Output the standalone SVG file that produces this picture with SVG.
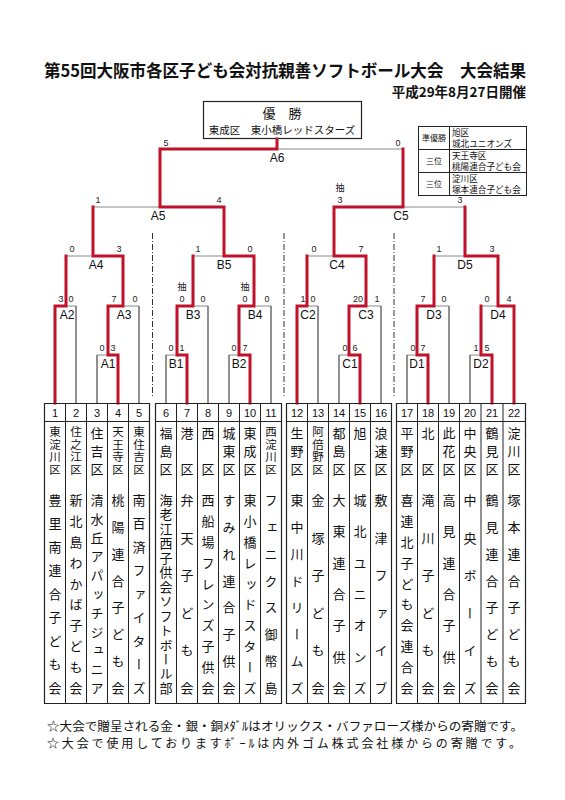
<svg xmlns="http://www.w3.org/2000/svg" width="565" height="800" viewBox="0 0 565 800">
<style>
.r{stroke:#c0132b;stroke-width:3;fill:none;stroke-linejoin:miter;stroke-linecap:square}
.g{stroke:#8a8a8a;stroke-width:1;fill:none}
.k{stroke:#222;stroke-width:1;fill:none}
.d{stroke:#333;stroke-width:1;fill:none;stroke-dasharray:6 2 1 2}
.tb{stroke:#222;stroke-width:1.2;fill:none}
.sc{font-family:"Liberation Sans","Noto Sans CJK JP",Arial,sans-serif;font-size:9px;text-anchor:middle;fill:#222}
.lb{font-family:"Liberation Sans",Arial,sans-serif;font-size:12px;text-anchor:middle;fill:#111}
.j{font-family:"Noto Sans CJK JP",sans-serif;fill:#111}
.num{font-family:"Liberation Sans",Arial,sans-serif;font-size:11px;text-anchor:middle;fill:#111}
.nm{font-family:"Noto Sans CJK JP",sans-serif;font-size:13px;text-anchor:middle;writing-mode:vertical-rl;fill:#111}
.w4{font-size:11.5px}
</style>
<rect width="565" height="800" fill="#fff"/>

<g id="title">
<text class="j" x="44" y="77" font-size="17" font-weight="bold" textLength="482" lengthAdjust="spacingAndGlyphs">第55回大阪市各区子ども会対抗親善ソフトボール大会　大会結果</text>
<text class="j" x="526" y="97" font-size="13.5" font-weight="bold" text-anchor="end">平成29年8月27日開催</text>
</g>

<g id="winner">
<rect x="203.5" y="101.5" width="158" height="37" fill="#fff" stroke="#222" stroke-width="1.2"/>
<text class="j" x="282" y="118" font-size="13" text-anchor="middle">優　勝</text>
<text class="j" x="282" y="134" font-size="10.5" text-anchor="middle">東成区　東小橋レッドスターズ</text>
</g>

<g id="legend">
<rect x="418.5" y="126.5" width="108" height="69" fill="#fff" stroke="#222" stroke-width="1"/>
<line class="k" x1="449.5" y1="126.5" x2="449.5" y2="195.5"/>
<line class="k" x1="418.5" y1="149.5" x2="526.5" y2="149.5"/>
<line class="k" x1="418.5" y1="172.5" x2="526.5" y2="172.5"/>
<text class="j" x="434" y="141" font-size="8" text-anchor="middle">準優勝</text>
<text class="j" x="434" y="164" font-size="8" text-anchor="middle">三位</text>
<text class="j" x="434" y="187" font-size="8" text-anchor="middle">三位</text>
<text class="j" x="452" y="136" font-size="8.6">旭区</text>
<text class="j" x="452" y="147" font-size="8.6">城北ユニオンズ</text>
<text class="j" x="452" y="159" font-size="8.6">天王寺区</text>
<text class="j" x="452" y="170" font-size="8.6">桃陽連合子ども会</text>
<text class="j" x="452" y="182" font-size="8.6">淀川区</text>
<text class="j" x="452" y="193" font-size="8.6">塚本連合子ども会</text>
</g>

<g id="connectors">
<line class="d" x1="152.5" y1="233" x2="152.5" y2="398"/>
<line class="d" x1="284" y1="233" x2="284" y2="398"/>
<line class="d" x1="394" y1="233" x2="394" y2="398"/>
<path class="g" d="M160 149H403 M93 207H224 M334 207H465 M66 256H123 M193 256H254 M307 256H366 M434 256H498 M55 306H76 M108 306H139 M177 306H208 M239 306H271 M297 306H318 M349 306H381 M417 306H449 M481 306H514 M97 355H118 M166 355H187 M229 355H250 M339 355H360 M407 355H428 M470 355H492"/>
<path class="k" d="M76 306V403.5 M139 306V403.5 M97 355V403.5 M166 355V403.5 M208 306V403.5 M229 355V403.5 M271 306V403.5 M318 306V403.5 M339 355V403.5 M381 306V403.5 M407 355V403.5 M449 306V403.5 M470 355V403.5"/>
<polyline class="r" points="55,403 55,306 66,306 66,256"/>
<polyline class="r" points="118,403 118,355 108,355 108,306 123,306 123,256 93,256 93,207"/>
<polyline class="r" points="187,403 187,355 177,355 177,306 193,306 193,256"/>
<polyline class="r" points="250,403 250,355 239,355 239,306 254,306 254,256 224,256 224,207 160,207 160,149 277,149 277,139"/>
<polyline class="r" points="297,403 297,306 307,306 307,256"/>
<polyline class="r" points="360,403 360,355 349,355 349,306 366,306 366,256 334,256 334,207 403,207 403,149"/>
<polyline class="r" points="428,403 428,355 417,355 417,306 434,306 434,256"/>
<polyline class="r" points="492,403 492,355 481,355 481,306"/>
<polyline class="r" points="514,403 514,306 498,306 498,256 465,256 465,207"/>
</g>

<g id="match-A6"><text class="sc" x="166" y="146">5</text><text class="sc" x="398" y="146">0</text><text class="lb" x="277" y="161.5">A6</text></g>
<g id="match-A5"><text class="sc" x="98" y="203">1</text><text class="sc" x="219" y="203">4</text><text class="lb" x="158" y="219.5">A5</text></g>
<g id="match-C5"><text class="sc" x="340" y="191">抽</text><text class="sc" x="340" y="203">3</text><text class="sc" x="460" y="203">3</text><text class="lb" x="401" y="219.5">C5</text></g>
<g id="match-A4"><text class="sc" x="72" y="252">0</text><text class="sc" x="119" y="252">3</text><text class="lb" x="96" y="268.5">A4</text></g>
<g id="match-B5"><text class="sc" x="198" y="252">1</text><text class="sc" x="250" y="252">0</text><text class="lb" x="224" y="268.5">B5</text></g>
<g id="match-C4"><text class="sc" x="314" y="252">0</text><text class="sc" x="361" y="252">7</text><text class="lb" x="337" y="268.5">C4</text></g>
<g id="match-D5"><text class="sc" x="439" y="252">1</text><text class="sc" x="492" y="252">3</text><text class="lb" x="465" y="268.5">D5</text></g>
<g id="match-A2"><text class="sc" x="61" y="302">3</text><text class="sc" x="71" y="302">0</text><text class="lb" x="67" y="318.5">A2</text></g>
<g id="match-A3"><text class="sc" x="114" y="302">7</text><text class="sc" x="135" y="302">0</text><text class="lb" x="124" y="318.5">A3</text></g>
<g id="match-B3"><text class="sc" x="182" y="290">抽</text><text class="sc" x="182" y="302">0</text><text class="sc" x="203" y="302">0</text><text class="lb" x="193" y="318.5">B3</text></g>
<g id="match-B4"><text class="sc" x="245" y="290">抽</text><text class="sc" x="245" y="302">0</text><text class="sc" x="267" y="302">0</text><text class="lb" x="255" y="318.5">B4</text></g>
<g id="match-C2"><text class="sc" x="303" y="302">1</text><text class="sc" x="313" y="302">0</text><text class="lb" x="308" y="318.5">C2</text></g>
<g id="match-C3"><text class="sc" x="358" y="302">20</text><text class="sc" x="377" y="302">1</text><text class="lb" x="366" y="318.5">C3</text></g>
<g id="match-D3"><text class="sc" x="423" y="302">7</text><text class="sc" x="444" y="302">0</text><text class="lb" x="434" y="318.5">D3</text></g>
<g id="match-D4"><text class="sc" x="487" y="302">0</text><text class="sc" x="509" y="302">4</text><text class="lb" x="498" y="318.5">D4</text></g>
<g id="match-A1"><text class="sc" x="102" y="351">0</text><text class="sc" x="113" y="351">3</text><text class="lb" x="108" y="367.5">A1</text></g>
<g id="match-B1"><text class="sc" x="171" y="351">0</text><text class="sc" x="182" y="351">1</text><text class="lb" x="176" y="367.5">B1</text></g>
<g id="match-B2"><text class="sc" x="234" y="351">0</text><text class="sc" x="245" y="351">7</text><text class="lb" x="239" y="367.5">B2</text></g>
<g id="match-C1"><text class="sc" x="345" y="351">0</text><text class="sc" x="355" y="351">6</text><text class="lb" x="350" y="367.5">C1</text></g>
<g id="match-D1"><text class="sc" x="413" y="351">0</text><text class="sc" x="423" y="351">7</text><text class="lb" x="417" y="367.5">D1</text></g>
<g id="match-D2"><text class="sc" x="476" y="351">1</text><text class="sc" x="487" y="351">5</text><text class="lb" x="481" y="367.5">D2</text></g>

<g id="table">
<path class="tb" d="M44.5 403.5H149.5V703.5H44.5Z M44.5 421.5H149.5 M155.5 403.5H281.5V703.5H155.5Z M155.5 421.5H281.5 M286.5 403.5H391.5V703.5H286.5Z M286.5 421.5H391.5 M396.5 403.5H525.5V703.5H396.5Z M396.5 421.5H525.5"/>
<path class="k" d="M65.5 403.5V703.5 M86.5 403.5V703.5 M107.5 403.5V703.5 M128.5 403.5V703.5 M176.5 403.5V703.5 M197.5 403.5V703.5 M218.5 403.5V703.5 M239.5 403.5V703.5 M260.5 403.5V703.5 M307.5 403.5V703.5 M328.5 403.5V703.5 M349.5 403.5V703.5 M370.5 403.5V703.5 M417.5 403.5V703.5 M438.5 403.5V703.5 M459.5 403.5V703.5 M481 403.5V703.5 M503 403.5V703.5"/>
</g>

<g id="team-1"><text class="num" x="55" y="417">1</text><text class="nm w4" x="55 55 55 55" y="432 444.5 457 469.5">東淀川区</text><text class="nm" x="55 55 55 55 55 55 55 55 55" y="500 523.5 547 570.5 594 617.5 641 664.5 688">豊里南連合子ども会</text></g>
<g id="team-2"><text class="num" x="76" y="417">2</text><text class="nm w4" x="76 76 76 76" y="432 444.5 457 469.5">住之江区</text><text class="nm" x="76 76 76 76 76 76 76 76 76 76" y="500 520.9 541.8 562.7 583.6 604.4 625.3 646.2 667.1 688">新北島わかば子ども会</text></g>
<g id="team-3"><text class="num" x="97" y="417">3</text><text class="nm" x="97 97 97" y="433 451 469">住吉区</text><text class="nm" x="97 97 97 97 97 97 97 97 97 97 97" y="500 518.8 537.6 556.4 575.2 594 612.8 631.6 650.4 669.2 688">清水丘アパッチジュニア</text></g>
<g id="team-4"><text class="num" x="118" y="417">4</text><text class="nm w4" x="118 118 118 118" y="432 444.5 457 469.5">天王寺区</text><text class="nm" x="118 118 118 118 118 118 118 118" y="500 526.9 553.7 580.6 607.4 634.3 661.1 688">桃陽連合子ども会</text></g>
<g id="team-5"><text class="num" x="139" y="417">5</text><text class="nm w4" x="139 139 139 139" y="432 444.5 457 469.5">東住吉区</text><text class="nm" x="139 139 139 139 139 139 139 139 139" y="500 523.5 547 570.5 594 617.5 641 664.5 688">南百済ファイターズ</text></g>
<g id="team-6"><text class="num" x="166" y="417">6</text><text class="nm" x="166 166 166" y="433 451 469">福島区</text><text class="nm" x="166 166 166 166 166 166 166 166 166 166 166 166 166 166" y="500 514.5 528.9 543.4 557.8 572.3 586.8 601.2 615.7 630.1 644.6 659.1 673.5 688">海老江西子供会ソフトボール部</text></g>
<g id="team-7"><text class="num" x="187" y="417">7</text><text class="nm" x="187 187" y="433 469">港区</text><text class="nm" x="187 187 187 187 187 187" y="500 537.6 575.2 612.8 650.4 688">弁天子ども会</text></g>
<g id="team-8"><text class="num" x="208" y="417">8</text><text class="nm" x="208 208" y="433 469">西区</text><text class="nm" x="208 208 208 208 208 208 208 208 208 208" y="500 520.9 541.8 562.7 583.6 604.4 625.3 646.2 667.1 688">西船場フレンズ子供会</text></g>
<g id="team-9"><text class="num" x="229" y="417">9</text><text class="nm" x="229 229 229" y="433 451 469">城東区</text><text class="nm" x="229 229 229 229 229 229 229 229" y="500 526.9 553.7 580.6 607.4 634.3 661.1 688">すみれ連合子供会</text></g>
<g id="team-10"><text class="num" x="250" y="417">10</text><text class="nm" x="250 250 250" y="433 451 469">東成区</text><text class="nm" x="250 250 250 250 250 250 250 250 250 250" y="500 520.9 541.8 562.7 583.6 604.4 625.3 646.2 667.1 688">東小橋レッドスターズ</text></g>
<g id="team-11"><text class="num" x="271" y="417">11</text><text class="nm w4" x="271 271 271 271" y="432 444.5 457 469.5">西淀川区</text><text class="nm" x="271 271 271 271 271 271 271 271" y="500 526.9 553.7 580.6 607.4 634.3 661.1 688">フェニクス御幣島</text></g>
<g id="team-12"><text class="num" x="297" y="417">12</text><text class="nm" x="297 297 297" y="433 451 469">生野区</text><text class="nm" x="297 297 297 297 297 297 297 297" y="500 526.9 553.7 580.6 607.4 634.3 661.1 688">東中川ドリームズ</text></g>
<g id="team-13"><text class="num" x="318" y="417">13</text><text class="nm w4" x="318 318 318 318" y="432 444.5 457 469.5">阿倍野区</text><text class="nm" x="318 318 318 318 318 318" y="500 537.6 575.2 612.8 650.4 688">金塚子ども会</text></g>
<g id="team-14"><text class="num" x="339" y="417">14</text><text class="nm" x="339 339 339" y="433 451 469">都島区</text><text class="nm" x="339 339 339 339 339 339 339" y="500 531.3 562.7 594 625.3 656.7 688">大東連合子供会</text></g>
<g id="team-15"><text class="num" x="360" y="417">15</text><text class="nm" x="360 360" y="433 469">旭区</text><text class="nm" x="360 360 360 360 360 360 360" y="500 531.3 562.7 594 625.3 656.7 688">城北ユニオンズ</text></g>
<g id="team-16"><text class="num" x="381" y="417">16</text><text class="nm" x="381 381 381" y="433 451 469">浪速区</text><text class="nm" x="381 381 381 381 381 381" y="500 537.6 575.2 612.8 650.4 688">敷津ファイブ</text></g>
<g id="team-17"><text class="num" x="407" y="417">17</text><text class="nm" x="407 407 407" y="433 451 469">平野区</text><text class="nm" x="407 407 407 407 407 407 407 407 407 407" y="500 520.9 541.8 562.7 583.6 604.4 625.3 646.2 667.1 688">喜連北子ども会連合会</text></g>
<g id="team-18"><text class="num" x="428" y="417">18</text><text class="nm" x="428 428" y="433 469">北区</text><text class="nm" x="428 428 428 428 428 428" y="500 537.6 575.2 612.8 650.4 688">滝川子ども会</text></g>
<g id="team-19"><text class="num" x="449" y="417">19</text><text class="nm" x="449 449 449" y="433 451 469">此花区</text><text class="nm" x="449 449 449 449 449 449 449" y="500 531.3 562.7 594 625.3 656.7 688">高見連合子供会</text></g>
<g id="team-20"><text class="num" x="470" y="417">20</text><text class="nm" x="470 470 470" y="433 451 469">中央区</text><text class="nm" x="470 470 470 470 470 470" y="500 537.6 575.2 612.8 650.4 688">中央ボーイズ</text></g>
<g id="team-21"><text class="num" x="492" y="417">21</text><text class="nm" x="492 492 492" y="433 451 469">鶴見区</text><text class="nm" x="492 492 492 492 492 492 492 492" y="500 526.9 553.7 580.6 607.4 634.3 661.1 688">鶴見連合子ども会</text></g>
<g id="team-22"><text class="num" x="514" y="417">22</text><text class="nm" x="514 514 514" y="433 451 469">淀川区</text><text class="nm" x="514 514 514 514 514 514 514 514" y="500 526.9 553.7 580.6 607.4 634.3 661.1 688">塚本連合子ども会</text></g>

<g id="footer">
<text class="j" x="47" y="730.5" font-size="12" textLength="476" lengthAdjust="spacingAndGlyphs">☆大会で贈呈される金・銀・銅ﾒﾀﾞﾙはオリックス・バファローズ様からの寄贈です。</text>
<text class="j" x="47" y="748" font-size="12" textLength="474" lengthAdjust="spacing">☆大会で使用しておりますﾎﾞｰﾙは内外ゴム株式会社様からの寄贈です。</text>
</g>
</svg>
